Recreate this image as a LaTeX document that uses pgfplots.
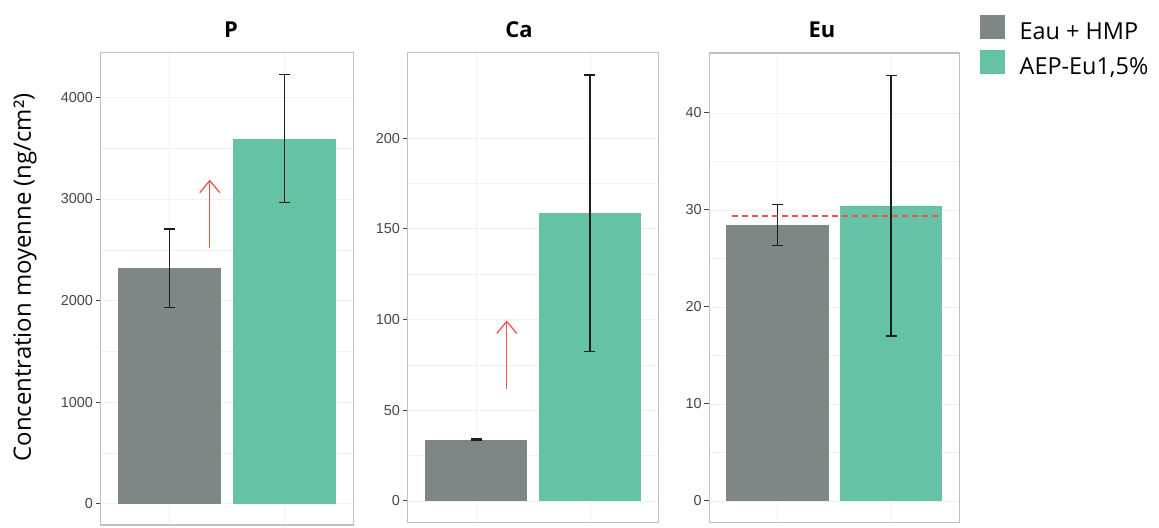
\documentclass[border=0pt]{standalone}
\usepackage{fontspec}
\setmainfont{Open Sans}
\newfontfamily\tickfont{Liberation Sans}
\usepackage{pgfplots}
\pgfplotsset{compat=1.18}
\usetikzlibrary{arrows.meta}
\definecolor{bargray}{RGB}{127,134,134}
\definecolor{bargreen}{RGB}{102,194,165}
\definecolor{framegray}{RGB}{190,194,198}
\definecolor{gridc}{RGB}{238,242,245}
\definecolor{tickc}{RGB}{70,70,70}
\definecolor{arrred}{RGB}{240,80,80}
\definecolor{errc}{RGB}{30,30,30}

\pgfplotsset{
  panel/.style={
    scale only axis, xmin=0.4, xmax=2.6,
    xtick={1,2}, xticklabels={}, major x tick style={draw=none},
    ymajorgrids, xmajorgrids, yminorgrids, minor y tick num=1,
    grid style={gridc, line width=0.8bp},
    minor grid style={gridc, line width=0.5bp},
    axis line style={framegray, line width=1.4bp},
    ytick pos=left, tick align=outside,
    major tick length=5bp, minor tick length=0pt,
    ytick style={tickc, line width=1bp},
    yticklabel style={font=\fontsize{14.5}{14.5}\selectfont\tickfont, text=tickc, inner xsep=2.5bp},
    /pgf/number format/assume math mode=true,
    scaled y ticks=false,
    y tick label style={/pgf/number format/1000 sep={}},
  },
  bars/.style={ybar, bar width=0.9, bar shift=0pt, draw=none, fill=#1,
    error bars/.cd, y dir=both, y explicit,
    error bar style={errc, line width=1.6bp},
    error mark options={errc, line width=1.6bp, mark size=5.5bp, rotate=90}},
  arr/.style={arrred, line width=1.3bp, mark=none, forget plot,
    -{Straight Barb[length=12bp,width=20bp]}},
}

\begin{document}
\begin{tikzpicture}
\path[use as bounding box] (0,0) rectangle (1159bp,528bp);

% Panel P
\begin{axis}[panel, at={(100.7bp,3bp)}, anchor=south west,
  width=252.6bp, height=472.3bp, ymin=-211.5, ymax=4441.5,
  ytick={0,1000,2000,3000,4000}]
\addplot[bars=bargray] coordinates {(1,2317) +- (0,386)};
\addplot[bars=bargreen] coordinates {(2,3595) +- (0,630)};
\addplot[arr] coordinates {(1.35,2522) (1.35,3191)};
\end{axis}

% Panel Ca
\begin{axis}[panel, at={(407.7bp,5.7bp)}, anchor=south west,
  width=250.6bp, height=469.6bp, ymin=-11.77, ymax=247.07,
  ytick={0,50,100,150,200}]
\addplot[bars=bargray] coordinates {(1,33.8) +- (0,0.5)};
\addplot[bars=bargreen] coordinates {(2,158.5) +- (0,76.2)};
\addplot[arr] coordinates {(1.27,61.8) (1.27,99.5)};
\end{axis}

% Panel Eu
\begin{axis}[panel, at={(709.3bp,5.7bp)}, anchor=south west,
  width=250bp, height=469.3bp, ymin=-2.2, ymax=46.18,
  ytick={0,10,20,30,40},
  legend style={at={(1,1)}, anchor=north west, xshift=20.7bp, yshift=38bp,
    draw=none, fill=none, inner sep=0pt, row sep=6.5bp, column sep=15bp,
    font=\fontsize{23.5}{23.5}\selectfont,
    nodes={inner sep=0pt, text height=16.5bp, text depth=4.5bp}},
  legend cell align=left,
  legend image code/.code={\fill[#1] (0bp,-6bp) rectangle (24.5bp,18bp);}]
\addplot[bars=bargray] coordinates {(1,28.44) +- (0,2.12)};
\addlegendentry{Eau + HMP}
\addplot[bars=bargreen] coordinates {(2,30.42) +- (0,13.44)};
\addlegendentry{AEP-Eu1,5\%}
\addplot[arrred, line width=1.3bp, dash pattern=on 6bp off 4bp, mark=none, forget plot]
  coordinates {(0.6,29.37) (2.43,29.37)};
\end{axis}

% Titles and y label
\node[font=\bfseries\fontsize{22}{22}\selectfont, anchor=base] at (231bp,490bp) {P};
\node[font=\bfseries\fontsize{22}{22}\selectfont, anchor=base] at (519bp,490bp) {Ca};
\node[font=\bfseries\fontsize{22}{22}\selectfont, anchor=base] at (822bp,490bp) {Eu};
\node[rotate=90, font=\fontsize{24}{24}\selectfont] at (25bp,250.5bp) {Concentration moyenne (ng/cm²)};
\end{tikzpicture}
\end{document}
